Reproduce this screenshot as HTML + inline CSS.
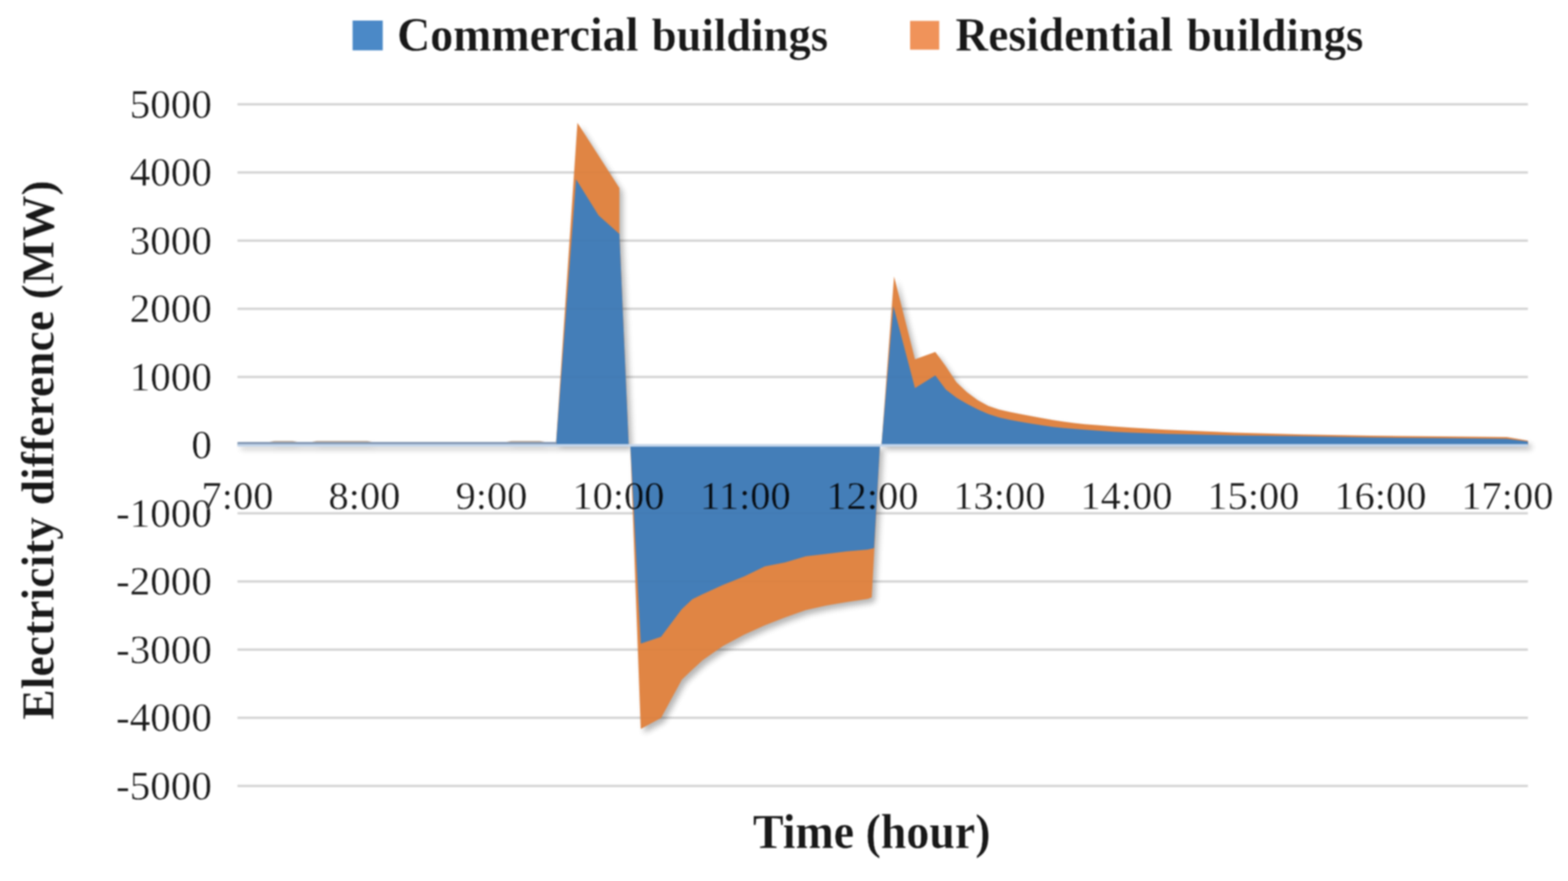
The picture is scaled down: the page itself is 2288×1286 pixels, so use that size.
<!DOCTYPE html>
<html lang="en">
<head>
<meta charset="utf-8">
<title>Electricity difference: commercial and residential buildings</title>
<style>
html, body { margin: 0; padding: 0; background: #ffffff; }
body { width: 2288px; height: 1286px; overflow: hidden; font-family: "Liberation Serif", "Times New Roman", serif; }
svg { display: block; filter: blur(1px); }
</style>
</head>
<body>
<svg width="2288" height="1286" viewBox="0 0 2288 1286">
<defs>
<filter id="sh" x="-2%" y="-5%" width="104%" height="110%" color-interpolation-filters="sRGB"><feGaussianBlur in="SourceAlpha" stdDeviation="4.4" result="b"/><feOffset in="b" dx="4.5" dy="6" result="o"/><feComponentTransfer in="o" result="s"><feFuncA type="linear" slope="0.29"/></feComponentTransfer><feMerge><feMergeNode in="s"/><feMergeNode in="SourceGraphic"/></feMerge></filter>
<filter id="soft" x="-5%" y="-5%" width="110%" height="110%"><feGaussianBlur stdDeviation="0.8"/></filter>
</defs>
<rect width="2288" height="1286" fill="#ffffff"/>
<g stroke="#d8d8d8" stroke-width="3.6">
<line x1="346.5" y1="1147.3" x2="2229.5" y2="1147.3"/>
<line x1="346.5" y1="1047.8" x2="2229.5" y2="1047.8"/>
<line x1="346.5" y1="948.3" x2="2229.5" y2="948.3"/>
<line x1="346.5" y1="848.8" x2="2229.5" y2="848.8"/>
<line x1="346.5" y1="749.3" x2="2229.5" y2="749.3"/>
<line x1="346.5" y1="550.3" x2="2229.5" y2="550.3"/>
<line x1="346.5" y1="450.8" x2="2229.5" y2="450.8"/>
<line x1="346.5" y1="351.3" x2="2229.5" y2="351.3"/>
<line x1="346.5" y1="251.8" x2="2229.5" y2="251.8"/>
<line x1="346.5" y1="152.2" x2="2229.5" y2="152.2"/>
</g>
<g filter="url(#sh)">
<polygon fill="#7d93b0" points="346.5,649.8 346.5,645.2 811.2,645.2 811.2,649.8"/>
<polygon fill="#b09a88" points="392.0,645.2 400.0,643.7 427.0,643.7 435.0,645.2"/>
<polygon fill="#b09a88" points="454.0,645.2 462.0,643.7 536.0,643.7 544.0,645.2"/>
<polygon fill="#b09a88" points="738.0,645.2 746.0,643.7 788.0,643.7 796.0,645.2"/>
<polygon fill="#e08544" points="811.2,649.8 842.6,179.2 903.8,274.4 903.8,341.0 917.4,649.8"/>
<polygon fill="#447eb8" points="811.3,649.8 840.6,261.8 873.5,314.5 903.8,341.6 917.4,649.8"/>
<polygon fill="#e08544" points="919.8,649.8 935.0,1064.0 964.6,1048.0 995.0,992.0 1010.5,977.3 1025.5,963.5 1055.0,943.0 1085.7,926.5 1116.0,912.7 1145.5,901.2 1175.9,890.5 1206.2,883.7 1236.0,878.8 1266.0,874.2 1272.0,872.0 1284.0,649.8"/>
<polygon fill="#447eb8" points="919.8,649.8 935.0,939.5 964.6,929.5 994.8,889.2 1010.5,874.5 1025.5,867.2 1055.0,853.8 1085.7,841.6 1116.0,826.7 1145.5,821.1 1175.9,811.9 1206.2,808.6 1236.0,804.8 1266.0,802.2 1275.4,800.0 1284.0,649.8"/>
<polygon fill="#e08544" points="1286.3,649.8 1304.6,403.6 1335.1,524.4 1364.8,513.7 1380.0,534.5 1395.6,557.9 1411.0,572.5 1426.5,584.0 1442.0,592.6 1457.5,597.8 1473.0,601.3 1488.0,604.3 1504.0,607.3 1520.0,610.3 1537.0,613.2 1552.0,615.5 1567.0,617.6 1583.0,619.2 1600.0,620.5 1625.0,622.5 1650.0,624.2 1700.0,627.3 1800.0,631.5 1900.0,634.2 2000.0,636.0 2100.0,637.0 2198.8,638.0 2229.5,643.3 2229.5,649.8"/>
<polygon fill="#447eb8" points="1286.3,649.8 1303.6,446.7 1335.1,566.4 1364.8,548.0 1380.0,568.6 1395.6,580.6 1411.0,589.5 1426.5,597.5 1442.0,604.3 1457.5,609.3 1473.0,612.8 1488.0,615.5 1504.0,618.3 1520.0,620.8 1537.0,623.2 1552.0,624.8 1567.0,626.1 1583.0,627.3 1600.0,628.6 1625.0,630.2 1650.0,631.5 1700.0,633.3 1800.0,635.5 1900.0,636.8 2000.0,638.5 2100.0,639.5 2198.8,640.5 2229.5,644.5 2229.5,649.8"/>
</g>
<g stroke="#000000" stroke-opacity="0.012" stroke-width="3.6">
<line x1="346.5" y1="1147.3" x2="2229.5" y2="1147.3"/>
<line x1="346.5" y1="1047.8" x2="2229.5" y2="1047.8"/>
<line x1="346.5" y1="948.3" x2="2229.5" y2="948.3"/>
<line x1="346.5" y1="848.8" x2="2229.5" y2="848.8"/>
<line x1="346.5" y1="749.3" x2="2229.5" y2="749.3"/>
<line x1="346.5" y1="550.3" x2="2229.5" y2="550.3"/>
<line x1="346.5" y1="450.8" x2="2229.5" y2="450.8"/>
<line x1="346.5" y1="351.3" x2="2229.5" y2="351.3"/>
<line x1="346.5" y1="251.8" x2="2229.5" y2="251.8"/>
<line x1="346.5" y1="152.2" x2="2229.5" y2="152.2"/>
</g>
<line x1="346.5" y1="650.1" x2="2229.5" y2="650.1" stroke="#c5d6ea" stroke-width="3.6"/>
<rect x="514.5" y="30" width="44" height="43.5" fill="#4b89c7"/>
<rect x="1328" y="30.5" width="42.5" height="42" fill="#f0935a"/>
<g font-family="'Liberation Serif', 'Times New Roman', serif" font-weight="bold" font-size="67.0" fill="#181818" stroke="#ffffff" stroke-width="0.4" stroke-linejoin="round" style="mix-blend-mode:multiply">
<text transform="translate(0,73.7) scale(1,1.05)"><tspan x="579.4" font-size="67.0">Commercial </tspan><tspan x="951.1" font-size="65.2">buildings</tspan></text>
<text transform="translate(0,73.7) scale(1,1.05)"><tspan x="1394.1" font-size="66.4">Residential </tspan><tspan x="1731.8" font-size="65.3">buildings</tspan></text>
<text transform="translate(1272.0,1238.0) scale(1,1.06)" text-anchor="middle">Time (hour)</text>
<g font-size="66.7"><text transform="translate(78.2,656.9) rotate(-90) scale(1,1.02)" text-anchor="middle">Electricity difference (MW)</text></g>
</g>
<g font-family="'Liberation Serif', 'Times New Roman', serif" font-size="60" fill="#1a1a1a" stroke="#ffffff" stroke-width="0.5" stroke-linejoin="round" style="mix-blend-mode:multiply">
<text transform="translate(309.3,171.7) scale(1,0.995)" text-anchor="end">5000</text>
<text transform="translate(309.3,271.3) scale(1,0.995)" text-anchor="end">4000</text>
<text transform="translate(309.3,370.8) scale(1,0.995)" text-anchor="end">3000</text>
<text transform="translate(309.3,470.3) scale(1,0.995)" text-anchor="end">2000</text>
<text transform="translate(309.3,569.8) scale(1,0.995)" text-anchor="end">1000</text>
<text transform="translate(309.3,669.3) scale(1,0.995)" text-anchor="end">0</text>
<text transform="translate(309.3,768.8) scale(1,0.995)" text-anchor="end">-1000</text>
<text transform="translate(309.3,868.3) scale(1,0.995)" text-anchor="end">-2000</text>
<text transform="translate(309.3,967.8) scale(1,0.995)" text-anchor="end">-3000</text>
<text transform="translate(309.3,1067.3) scale(1,0.995)" text-anchor="end">-4000</text>
<text transform="translate(309.3,1166.8) scale(1,0.995)" text-anchor="end">-5000</text>
<g font-size="59">
<text transform="translate(346.5,743.0) scale(1,0.985)" text-anchor="middle">7:00</text>
<text transform="translate(531.8,743.0) scale(1,0.985)" text-anchor="middle">8:00</text>
<text transform="translate(717.1,743.0) scale(1,0.985)" text-anchor="middle">9:00</text>
<text transform="translate(902.4,743.0) scale(1,0.985)" text-anchor="middle">10:00</text>
<text transform="translate(1087.7,743.0) scale(1,0.985)" text-anchor="middle">11:00</text>
<text transform="translate(1273.0,743.0) scale(1,0.985)" text-anchor="middle">12:00</text>
<text transform="translate(1458.3,743.0) scale(1,0.985)" text-anchor="middle">13:00</text>
<text transform="translate(1643.6,743.0) scale(1,0.985)" text-anchor="middle">14:00</text>
<text transform="translate(1828.9,743.0) scale(1,0.985)" text-anchor="middle">15:00</text>
<text transform="translate(2014.2,743.0) scale(1,0.985)" text-anchor="middle">16:00</text>
<text transform="translate(2199.5,743.0) scale(1,0.985)" text-anchor="middle">17:00</text>
</g>
</g>
</svg>
</body>
</html>
